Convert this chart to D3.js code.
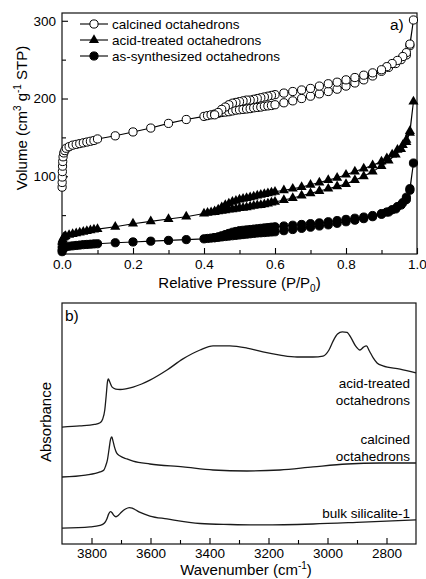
<!DOCTYPE html>
<html>
<head>
<meta charset="utf-8">
<script src="https://cdn.jsdelivr.net/npm/d3@7"></script>
<style>
body { margin: 0; background: #fff; }
svg { font-family: Arial, "Liberation Sans", sans-serif; }
.tick text { font-size: 13.5px; fill: #000; }
.tick line { stroke: #000; stroke-width: 1.1; }
</style>
</head>
<body>
<div id="chart"></div>
<script>
// ---- panel a) isotherms : adsorption / desorption branches ----
var calcAdsP = [0.0003,0.0005,0.0008,0.001,0.0015,0.002,0.003,0.005,0.008,0.012,
  0.02,0.03,0.04,0.05,0.06,0.07,0.08,0.09,0.1,0.15,0.2,0.25,0.3,0.35,0.4,
  0.41,0.42,0.43,0.44,0.45,0.46,0.47,0.48,0.49,0.5,0.51,0.52,0.53,0.54,0.55,0.56,0.57,0.58,0.59,0.6,
  0.625,0.65,0.675,0.7,0.725,0.75,0.775,0.8,0.825,0.85,0.875,0.9,0.92,0.94,0.955,0.97,0.98,0.99];
var calcAdsV = [86,92,99,106,113,119,125,130,133,136,
  138,140,141,142,143,144,145,146,148,152,157,162,168,173,177,
  178,179,180,181,182,182.5,183,184,185,185.5,186,186.5,187,188,188.5,189,190,190.5,191,192,
  194.5,197,200,203,206,209,212,216,220,224,229,235,240,245,250,256,268,301];
var calcDesP = [0.98,0.97,0.96,0.945,0.93,0.915,0.9,0.875,0.85,0.825,0.8,0.775,0.75,0.725,0.7,0.675,0.65,0.625,0.6,
  0.59,0.58,0.57,0.56,0.55,0.54,0.53,0.52,0.51,0.5,0.49,0.48,0.47,0.46,0.45,0.44,0.43];
var calcDesV = [270,259,254,249,245,241,237,233,230,227,224,221,219,216,213,211,209,207,205,
  204,203,202,201,200,199,198,198,197,196,195,194,192,189,186,182,179];

var acidAdsP = [0.0003,0.0006,0.001,0.002,0.004,0.007,0.01,
  0.02,0.03,0.04,0.05,0.06,0.07,0.08,0.09,0.1,0.15,0.2,0.25,0.3,0.35,0.4,
  0.41,0.42,0.43,0.44,0.45,0.46,0.47,0.48,0.49,0.5,0.51,0.52,0.53,0.54,0.55,0.56,0.57,0.58,0.59,0.6,
  0.625,0.65,0.675,0.7,0.725,0.75,0.775,0.8,0.825,0.85,0.875,0.9,0.92,0.94,0.955,0.97,0.98,0.99];
var acidAdsV = [12,15,17,19,21,22,23,
  24.5,25.5,26.5,27.5,28.5,29.5,30.5,31.5,32,35,39,42,45,48,52,
  53,53.5,54,55,55.5,56,57,57.5,58,59,59.5,60,61,62,62.5,63,64,65,66,67,
  69.5,72,75,78,81,84,87,90,95,100,106,113,120,128,135,144,156,196];
var acidDesP = [0.98,0.97,0.96,0.945,0.93,0.915,0.9,0.875,0.85,0.825,0.8,0.775,0.75,0.725,0.7,0.675,0.65,0.625,0.6,
  0.59,0.58,0.57,0.56,0.55,0.54,0.53,0.52,0.51,0.5,0.49,0.48,0.47,0.46,0.45,0.44,0.43];
var acidDesV = [158,147,140,134,128,123,119,114,110,106,102,98,95,92,89,86,84,82,80,
  79,78,77,76,75,74,73,72,71,70,68.5,67,65,63,60,57,55];

var synAdsP = [0.0003,0.0006,0.001,0.002,0.004,0.007,0.01,
  0.02,0.03,0.04,0.05,0.06,0.07,0.08,0.09,0.1,0.15,0.2,0.25,0.3,0.35,0.4,
  0.41,0.42,0.43,0.44,0.45,0.46,0.47,0.48,0.49,0.5,0.51,0.52,0.53,0.54,0.55,0.56,0.57,0.58,0.59,0.6,
  0.625,0.65,0.675,0.7,0.725,0.75,0.775,0.8,0.825,0.85,0.875,0.9,0.92,0.94,0.955,0.97,0.98,0.99];
var synAdsV = [3,5,6,7,8,8.5,9,
  10,10.5,11,11.5,12,12.3,12.6,13,13.2,14.5,15.5,16.5,17.5,18.5,19.5,
  20,20.5,21,21.5,22,22.5,23,23.5,24,24.5,25,25.5,26,26.5,27,27.3,27.6,28,28.3,28.6,
  30,31.5,33,34.5,36,37.5,39.5,41.5,43.5,45.5,48,51,54,58,63,70,82,117];
var synDesP = [0.98,0.97,0.96,0.945,0.93,0.915,0.9,0.875,0.85,0.825,0.8,0.775,0.75,0.725,0.7,0.675,0.65,0.625,0.6,
  0.59,0.58,0.57,0.56,0.55,0.54,0.53,0.52,0.51,0.5,0.49,0.48,0.47,0.46,0.45,0.44,0.43];
var synDesV = [84,73,66,61,57,54,52,49.5,47.5,46,44.5,43,41.5,40,39,38,37,36,35,
  34.5,34,33.5,33,32.5,32,31.5,31,30.5,30,29,28,26.5,25,23.5,22,21];

var isoNames = ["calcined octahedrons", "acid-treated octahedrons", "as-synthesized octahedrons"];
var pTicks = [0, 0.2, 0.4, 0.6, 0.8, 1.0];
var pMinor = [0.1, 0.3, 0.5, 0.7, 0.9];
var vTicks = [100, 200, 300];
var vMinor = [50, 150, 250];

// ---- panel b) IR spectra (arbitrary absorbance units) ----
var acidW = [3900,3840,3790,3771,3762,3755,3750,3746,3743,3738,3730,3718,3703,3680,3659,3630,3602,3544,3490,3432,
  3388,3331,3273,3219,3161,3103,3049,3015,2995,2981,2966,2950,2934,2920,2905,2890,2878,2868,2858,2845,2832,2812,2754,2700];
var acidA = [48.5,49.0,49.6,50.3,51.9,55.6,61.8,67.2,68.5,67.2,65.1,64.3,64.1,64.5,65.1,66.4,68.0,72.2,76.8,80.5,
  82.2,82.2,81.3,79.7,78.4,77.6,77.6,78.0,80.5,84.2,87.1,88.0,87.8,85.5,82.2,80.5,81.7,82.2,80.1,77.2,75.1,73.9,72.6,71.0];
var calcW = [3900,3820,3771,3758,3752,3746,3740,3735,3731,3727,3722,3715,3703,3680,3659,3602,3490,3388,3273,3161,3049,2934,2822,2700];
var calcA = [27.8,28.6,29.9,30.7,32.4,34.9,39.8,43.6,44.4,42.7,40.2,37.8,36.5,35.3,34.4,33.2,32.0,30.7,30.3,30.7,32.0,33.2,33.6,33.6];
var bulkW = [3900,3805,3771,3756,3748,3742,3736,3731,3725,3717,3708,3698,3685,3672,3662,3650,3635,3602,3544,3432,3330,3219,3049,2880,2700];
var bulkA = [6.6,7.1,7.7,8.7,10.4,12.4,13.4,13.1,12.0,11.3,12.0,13.3,14.5,15.1,14.9,14.1,13.1,11.6,10.4,8.5,8.1,7.9,8.3,9.1,10.0];

var specLabels = [["acid-treated", "octahedrons"], ["calcined", "octahedrons"], ["bulk silicalite-1"]];
var wTicks = [3800, 3600, 3400, 3200, 3000, 2800];
var wMinor = [3700, 3500, 3300, 3100, 2900];

var width = 426;
var height = 579;

var svg = d3.select("#chart")
    .append("svg")
    .attr("width", width)
    .attr("height", height);

function zip(xs, ys) {
  return xs.map(function(x, i) { return [x, ys[i]]; });
}

// ================= panel a =================
var boxA = {left: 62, right: 417, top: 13, bottom: 254};

var xA = d3.scaleLinear().domain([0, 1]).range([boxA.left, boxA.right]);
var yA = d3.scaleLinear().domain([0, 310]).range([boxA.bottom, boxA.top]);

svg.append("g")
    .attr("transform", `translate(0, ${boxA.bottom})`)
    .call(d3.axisBottom(xA).tickValues(pTicks).tickSizeInner(-6).tickSizeOuter(0)
      .tickPadding(5).tickFormat(d3.format(".1f")))
    .call(function(g) { g.select(".domain").remove(); });

svg.append("g")
    .attr("transform", `translate(0, ${boxA.bottom})`)
    .call(d3.axisBottom(xA).tickValues(pMinor).tickSizeInner(-4).tickSizeOuter(0).tickFormat(""))
    .call(function(g) { g.select(".domain").remove(); });

svg.append("g")
    .attr("transform", `translate(${boxA.left}, 0)`)
    .call(d3.axisLeft(yA).tickValues(vTicks).tickSizeInner(-6).tickSizeOuter(0).tickPadding(6))
    .call(function(g) { g.select(".domain").remove(); });

svg.append("g")
    .attr("transform", `translate(${boxA.left}, 0)`)
    .call(d3.axisLeft(yA).tickValues(vMinor).tickSizeInner(-4).tickSizeOuter(0).tickFormat(""))
    .call(function(g) { g.select(".domain").remove(); });

svg.append("rect")
    .attr("x", boxA.left).attr("y", boxA.top)
    .attr("width", boxA.right - boxA.left).attr("height", boxA.bottom - boxA.top)
    .attr("fill", "none").attr("stroke", "#111").attr("stroke-width", 1.2);

var triangle = d3.symbol().type(d3.symbolTriangle).size(44);

function drawMarker(g, kind) {
  if (kind === "triangle") {
    g.append("path").attr("d", triangle).attr("fill", "#000");
  } else {
    g.append("circle").attr("r", 4.1)
      .attr("fill", kind === "open" ? "#fff" : "#000")
      .attr("stroke", "#000").attr("stroke-width", 1);
  }
}

var isoLine = d3.line()
    .x(function(d) { return xA(d[0]); })
    .y(function(d) { return yA(d[1]); });

function drawIsotherm(adsP, adsV, desP, desV, kind) {
  var pts = zip(adsP, adsV).concat(zip(desP, desV));
  svg.append("path")
      .datum(pts)
      .attr("d", isoLine)
      .attr("fill", "none")
      .attr("stroke", "#000")
      .attr("stroke-width", 1.1);
  svg.append("g").selectAll("g")
      .data(pts)
      .enter()
      .append("g")
      .attr("transform", function(d) { return `translate(${xA(d[0])}, ${yA(d[1])})`; })
      .each(function() { drawMarker(d3.select(this), kind); });
}

drawIsotherm(synAdsP, synAdsV, synDesP, synDesV, "filled");
drawIsotherm(acidAdsP, acidAdsV, acidDesP, acidDesV, "triangle");
drawIsotherm(calcAdsP, calcAdsV, calcDesP, calcDesV, "open");

// legend
var kinds = ["open", "triangle", "filled"];
isoNames.forEach(function(name, i) {
  var ly = 24 + i * 16;
  svg.append("line")
      .attr("x1", 80).attr("x2", 108).attr("y1", ly).attr("y2", ly)
      .attr("stroke", "#000").attr("stroke-width", 1.1);
  drawMarker(svg.append("g").attr("transform", `translate(94, ${ly})`), kinds[i]);
  svg.append("text")
      .attr("x", 112).attr("y", ly).attr("dy", "0.35em")
      .attr("font-size", "13.5px")
      .text(name);
});

svg.append("text")
    .attr("x", 390).attr("y", 30)
    .attr("font-size", "15.5px")
    .text("a)");

// axis titles
var xTitleA = svg.append("text")
    .attr("x", (boxA.left + boxA.right) / 2).attr("y", 288)
    .attr("text-anchor", "middle")
    .attr("font-size", "15px")
    .text("Relative Pressure (P/P");
xTitleA.append("tspan").attr("dy", 4).attr("font-size", "10px").text("0");
xTitleA.append("tspan").attr("dy", -4).text(")");

var yTitleA = svg.append("text")
    .attr("transform", "translate(27, 118) rotate(-90)")
    .attr("text-anchor", "middle")
    .attr("font-size", "15px")
    .text("Volume (cm");
yTitleA.append("tspan").attr("dy", -6).attr("font-size", "10px").text("3");
yTitleA.append("tspan").attr("dy", 6).text(" g");
yTitleA.append("tspan").attr("dy", -6).attr("font-size", "10px").text("-1");
yTitleA.append("tspan").attr("dy", 6).text(" STP)");

// ================= panel b =================
var boxB = {left: 62, right: 416, top: 303, bottom: 544};

var xB = d3.scaleLinear().domain([3900, 2700]).range([boxB.left, boxB.right]);
var yB = d3.scaleLinear().domain([0, 100]).range([boxB.bottom, boxB.top]);

svg.append("g")
    .attr("transform", `translate(0, ${boxB.bottom})`)
    .call(d3.axisBottom(xB).tickValues(wTicks).tickSizeInner(-6).tickSizeOuter(0)
      .tickPadding(4).tickFormat(d3.format("d")))
    .call(function(g) { g.select(".domain").remove(); });

svg.append("g")
    .attr("transform", `translate(0, ${boxB.bottom})`)
    .call(d3.axisBottom(xB).tickValues(wMinor).tickSizeInner(-4).tickSizeOuter(0).tickFormat(""))
    .call(function(g) { g.select(".domain").remove(); });

svg.append("rect")
    .attr("x", boxB.left).attr("y", boxB.top)
    .attr("width", boxB.right - boxB.left).attr("height", boxB.bottom - boxB.top)
    .attr("fill", "none").attr("stroke", "#111").attr("stroke-width", 1.2);

var specLine = d3.line()
    .curve(d3.curveMonotoneX)
    .x(function(d) { return xB(d[0]); })
    .y(function(d) { return yB(d[1]); });

[zip(acidW, acidA), zip(calcW, calcA), zip(bulkW, bulkA)].forEach(function(s) {
  svg.append("path")
      .datum(s)
      .attr("d", specLine)
      .attr("fill", "none")
      .attr("stroke", "#1a1a1a")
      .attr("stroke-width", 1.3);
});

// labels next to spectra
var labelY = [[388, 405], [444, 461], [518]];
specLabels.forEach(function(lines, i) {
  lines.forEach(function(t, j) {
    svg.append("text")
        .attr("x", boxB.right - 6).attr("y", labelY[i][j])
        .attr("text-anchor", "end")
        .attr("font-size", "13.5px")
        .text(t);
  });
});

svg.append("text")
    .attr("x", 65).attr("y", 321)
    .attr("font-size", "15.5px")
    .text("b)");

var xTitleB = svg.append("text")
    .attr("x", 246).attr("y", 575)
    .attr("text-anchor", "middle")
    .attr("font-size", "15px")
    .text("Wavenumber (cm");
xTitleB.append("tspan").attr("dy", -6).attr("font-size", "10px").text("-1");
xTitleB.append("tspan").attr("dy", 6).text(")");

svg.append("text")
    .attr("transform", "translate(51, 422) rotate(-90)")
    .attr("text-anchor", "middle")
    .attr("font-size", "15px")
    .text("Absorbance");
</script>
</body>
</html>
